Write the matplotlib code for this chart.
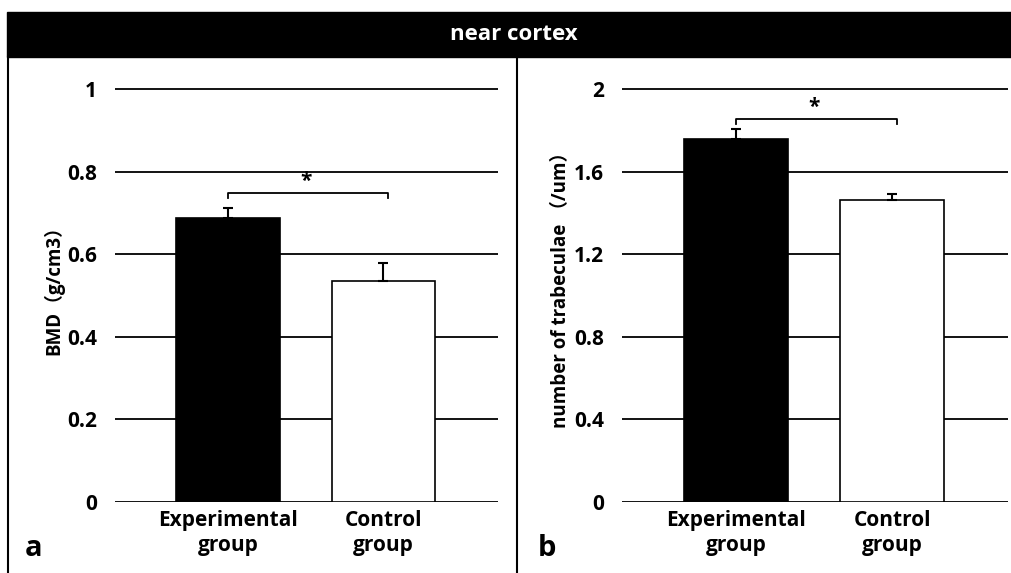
import matplotlib.pyplot as plt
from matplotlib.patches import Rectangle
from matplotlib.lines import Line2D

plt.rcParams['font.family'] = ['Open Sans', 'Noto Sans CJK SC', 'DejaVu Sans']

groups = ['Experimental\ngroup', 'Control\ngroup']
bar_colors = ['black', 'white']

bmd_means = [0.688, 0.535]
bmd_err = [0.024, 0.044]
bmd_ticks = [0, 0.2, 0.4, 0.6, 0.8, 1]
bmd_tick_labels = ['0', '0.2', '0.4', '0.6', '0.8', '1']

tb_means = [1.758, 1.462]
tb_err = [0.048, 0.028]
tb_ticks = [0, 0.4, 0.8, 1.2, 1.6, 2]
tb_tick_labels = ['0', '0.4', '0.8', '1.2', '1.6', '2']

W, H = 1012, 573
fig = plt.figure(figsize=(W / 100, H / 100), dpi=100)


def px(x0, y0, x1, y1):
    # pixel box (top-left origin) -> figure fraction rect
    return [x0 / W, 1 - y1 / H, (x1 - x0) / W, (y1 - y0) / H]


# header bar and panel frames
fig.add_artist(Rectangle((7 / W, 1 - 57 / H), (W - 7) / W, 45 / H,
                         transform=fig.transFigure, color='black'))
fig.text(514 / W, 1 - 35 / H, 'near cortex', color='white', fontsize=16,
         fontweight='bold', ha='center', va='center')
for xp in (8, 517):
    fig.add_artist(Line2D([xp / W, xp / W], [0, 1 - 57 / H],
                          transform=fig.transFigure, color='black', lw=1.5))


def panel(rect, means, errs, ticks, labels, ylabel, ymax, bracket, letter, lx):
    ax = fig.add_axes(rect)
    x = [0, 1]
    ax.bar(x, means, width=0.667, color=bar_colors, edgecolor='black',
           linewidth=1.2, zorder=3)
    ax.errorbar(x, means, yerr=[[0, 0], errs], fmt='none', ecolor='black',
                elinewidth=1.5, capsize=3.5, capthick=1.5, zorder=4)
    ax.set_xlim(-0.73, 1.74)
    ax.set_ylim(0, ymax)
    ax.set_yticks(ticks)
    ax.set_yticklabels(labels, fontsize=15, fontweight='bold')
    ax.yaxis.grid(True, color='black', linewidth=1.3, zorder=0)
    ax.set_axisbelow(True)
    ax.tick_params(axis='y', length=0, pad=13)
    ax.tick_params(axis='x', length=0, pad=6)
    ax.set_xticks(x)
    ax.set_xticklabels(groups, fontsize=15, fontweight='bold', linespacing=1.25)
    for s in ax.spines.values():
        s.set_visible(False)
    ax.set_ylabel(ylabel, fontsize=13.5, fontweight='bold', labelpad=2)
    # significance bracket
    by, tick = bracket
    ax.plot([0, 0, 1.03, 1.03], [by - tick, by, by, by - tick],
            color='black', lw=1.3, zorder=5)
    ax.text(0.5, by + tick * 0.2, '*', ha='center', va='bottom',
            fontsize=15, fontweight='bold')
    fig.text(lx / W, 1 - 549 / H, letter, fontsize=21, fontweight='bold',
             ha='left', va='center')
    return ax


# panel a: 0 at y=502, 1.0 at y=89
top_a = 502 - 413 * 1.05
panel(px(115, top_a, 498, 502), bmd_means, bmd_err, bmd_ticks,
      bmd_tick_labels, 'BMD（g/cm3）', 1.05, (0.748, 0.013), 'a', 25)

top_b = 502 - 413 * 1.05
panel(px(622, top_b, 1008, 502), tb_means, tb_err, tb_ticks,
      tb_tick_labels, 'number of trabeculae （/um）', 2.1, (1.855, 0.026),
      'b', 538)

fig.savefig('out.png', dpi=100)
